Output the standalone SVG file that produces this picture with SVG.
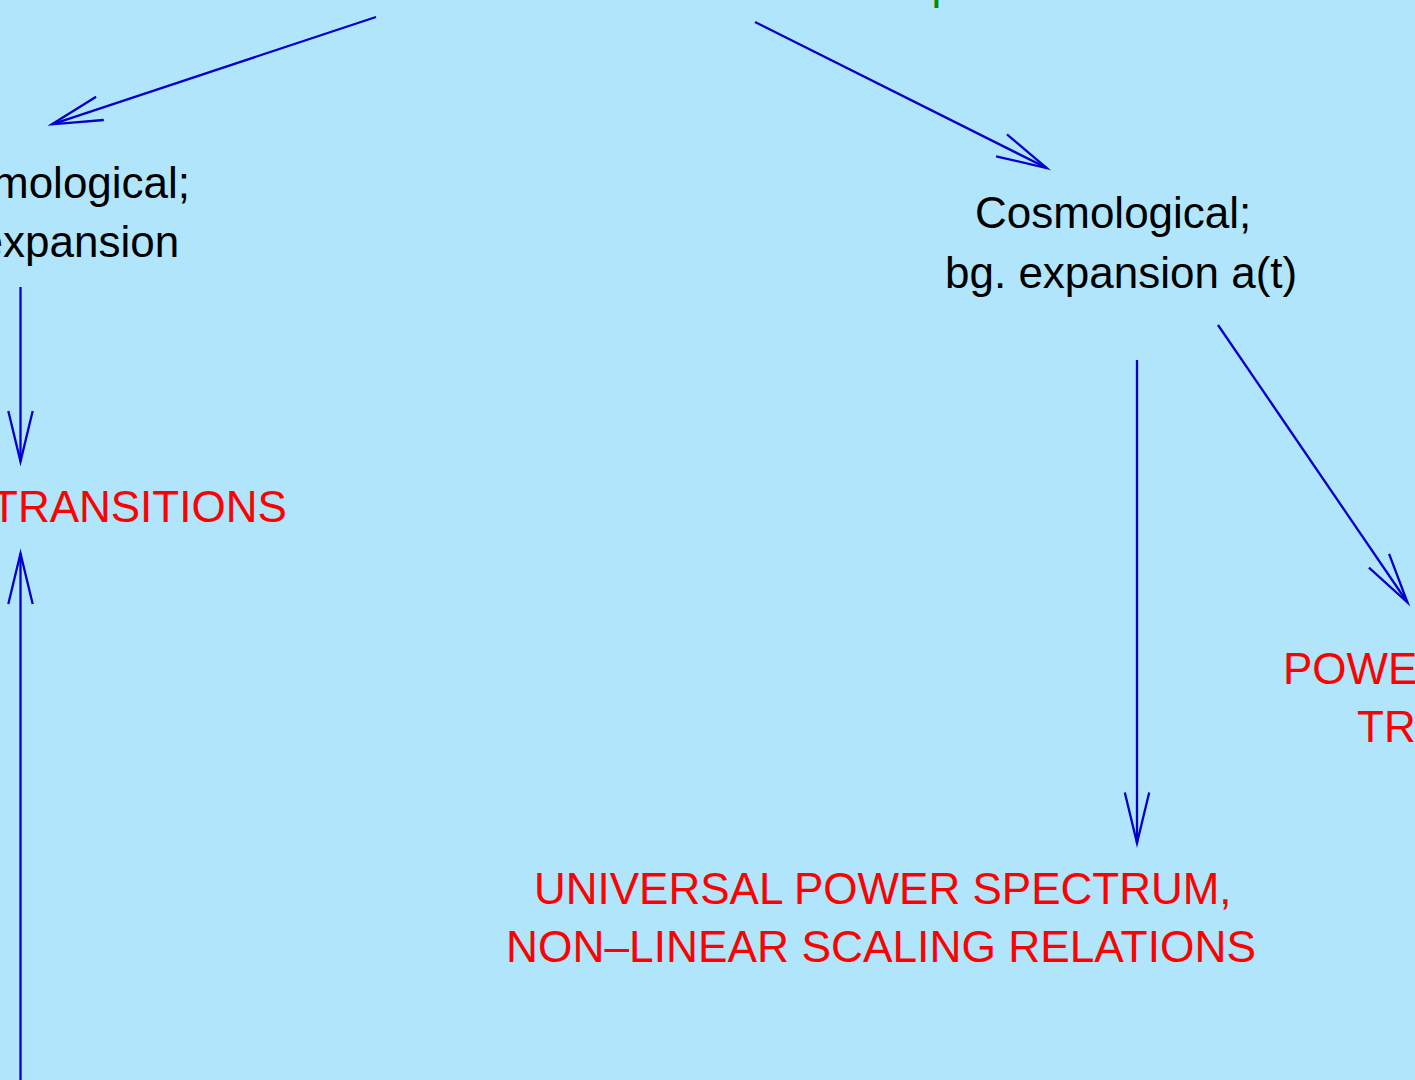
<svg xmlns="http://www.w3.org/2000/svg" width="1415" height="1080" viewBox="0 0 1415 1080">
<style>
text{font-family:"Liberation Sans",Arial,sans-serif;font-size:44px}
.k{fill:#000}
.r{fill:#ff0000}
.g{fill:#008c00}
.c{stroke:#0000cc;stroke-width:2.3;fill:none}
</style>
<defs>
<marker id="ah" markerUnits="userSpaceOnUse" viewBox="-56 -16 60 32" markerWidth="60" markerHeight="32" refX="0" refY="0" orient="auto" overflow="visible">
<path d="M -50.5 -12.2 L 0 0 L -50.5 12.2" fill="none" stroke="#0000cc" stroke-width="2.3" stroke-linejoin="miter" stroke-miterlimit="10"/>
</marker>
</defs>
<rect x="0" y="0" width="1415" height="1080" fill="#b0e5fc"/>
<g id="connectors">
<line class="c" x1="376" y1="17" x2="52" y2="124.3" marker-end="url(#ah)"/>
<line class="c" x1="755" y1="22" x2="1046.7" y2="168" marker-end="url(#ah)"/>
<line class="c" x1="20.5" y1="287" x2="20.5" y2="461.5" marker-end="url(#ah)"/>
<line class="c" x1="20.5" y1="1085" x2="20.5" y2="553.5" marker-end="url(#ah)"/>
<line class="c" x1="1137" y1="360" x2="1137" y2="843" marker-end="url(#ah)"/>
<line class="c" x1="1218" y1="325" x2="1407.5" y2="602.5" marker-end="url(#ah)"/>
</g>
<g id="node-top">
<text class="g" x="931.4" y="-1.5">p</text>
</g>
<g id="node-left-cosmo">
<text class="k" x="-8" y="198">mological;</text>
<text class="k" x="-21.5" y="257">expansion</text>
</g>
<g id="node-right-cosmo">
<text class="k" x="975" y="228">Cosmological;</text>
<text class="k" x="945" y="288">bg. expansion a(t)</text>
</g>
<g id="node-transitions">
<text class="r" x="-9" y="522">TRANSITIONS</text>
</g>
<g id="node-universal">
<text class="r" x="534" y="904">UNIVERSAL POWER SPECTRUM,</text>
<text class="r" x="506" y="962" style="font-size:44.3px">NON–LINEAR SCALING RELATIONS</text>
</g>
<g id="node-power">
<text class="r" x="1283" y="684">POWE</text>
<text class="r" x="1357" y="742">TR</text>
</g>
</svg>
